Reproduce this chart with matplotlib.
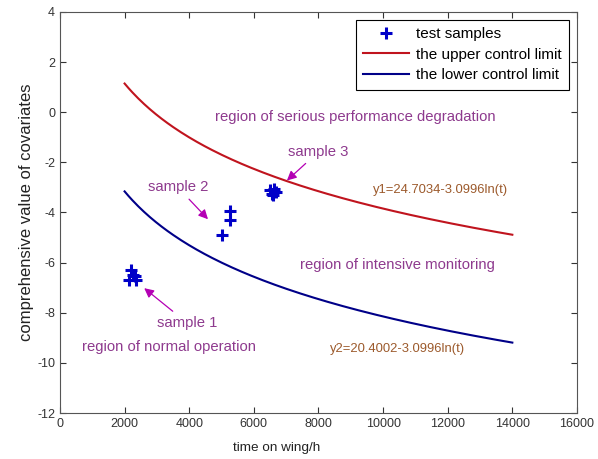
import numpy as np
import matplotlib.pyplot as plt

plt.rcParams['font.family'] = ['Liberation Sans', 'DejaVu Sans']
plt.rcParams['axes.unicode_minus'] = False

# Control limit curves, y = a - b*ln(t) (coefficients as printed on the chart)
upper_a = 24.7034
lower_a = 20.4002
slope_b = 3.0996
t_start, t_end = 2000, 14000

# Test samples
sample_t = [2200, 2250, 2320, 2150, 2350,
            5250, 5250, 5000,
            6500, 6600, 6700, 6620, 6550]
sample_y = [-6.3, -6.5, -6.55, -6.7, -6.7,
            -3.95, -4.3, -4.9,
            -3.1, -3.3, -3.2, -3.05, -3.25]

# Labels
xticks = [0, 2000, 4000, 6000, 8000, 10000, 12000, 14000, 16000]
yticks = [4, 2, 0, -2, -4, -6, -8, -10, -12]

fig = plt.figure(figsize=(5.98, 4.59), dpi=100)
ax = fig.add_axes([0.1003, 0.1002, 0.8645, 0.8738])

t = np.linspace(t_start, t_end, 200)
ax.plot(sample_t, sample_y, '+', color='#0000C8', markersize=8, mew=2.2,
        label='test samples')
ax.plot(t, upper_a - slope_b * np.log(t), color='#C0141E', lw=1.5,
        label='the upper control limit')
ax.plot(t, lower_a - slope_b * np.log(t), color='#000088', lw=1.5,
        label='the lower control limit')

ax.set_xlim(0, 16000)
ax.set_ylim(-12, 4)
ax.set_xticks(xticks)
ax.set_yticks(yticks)
ax.tick_params(direction='in', top=True, right=True, labelsize=9,
               colors='#333333', length=4)
for s in ax.spines.values():
    s.set_color('#555555')
ax.set_xlabel('time on wing/h', fontsize=9.7, color='#222222')
ax.xaxis.set_label_coords(0.42, -0.072)
ax.set_ylabel('comprehensive value of covariates', fontsize=12,
              color='#222222', labelpad=2)

leg = ax.legend(loc='upper right', fontsize=11, handlelength=3.0,
                borderaxespad=0.5, fancybox=False, framealpha=1,
                edgecolor='black', borderpad=0.5, labelspacing=0.42,
                handletextpad=0.45)
leg.get_frame().set_linewidth(0.8)

purple = '#8E3A8E'
brown = '#9C5A2C'
ax.text(4800, -0.18, 'region of serious performance degradation',
        color=purple, fontsize=10.7, va='center')
ax.text(7430, -6.08, 'region of intensive monitoring',
        color=purple, fontsize=10.7, va='center')
ax.text(680, -9.35, 'region of normal operation',
        color=purple, fontsize=10.7, va='center')
ax.text(9700, -3.1, 'y1=24.7034-3.0996ln(t)', color=brown, fontsize=9.4,
        va='center')
ax.text(8360, -9.45, 'y2=20.4002-3.0996ln(t)', color=brown, fontsize=9.4,
        va='center')

arrow = dict(arrowstyle='-|>', color='#B400B4', lw=0.9, mutation_scale=14)
ax.annotate('sample 1', xy=(2540, -6.95), xytext=(3930, -8.4),
            color=purple, fontsize=10.7, ha='center', va='center',
            arrowprops=arrow)
ax.annotate('sample 2', xy=(4640, -4.35), xytext=(3650, -3.0),
            color=purple, fontsize=10.7, ha='center', va='center',
            arrowprops=arrow)
ax.annotate('sample 3', xy=(6960, -2.8), xytext=(8000, -1.58),
            color=purple, fontsize=10.7, ha='center', va='center',
            arrowprops=arrow)

fig.savefig('out.png', dpi=100)
